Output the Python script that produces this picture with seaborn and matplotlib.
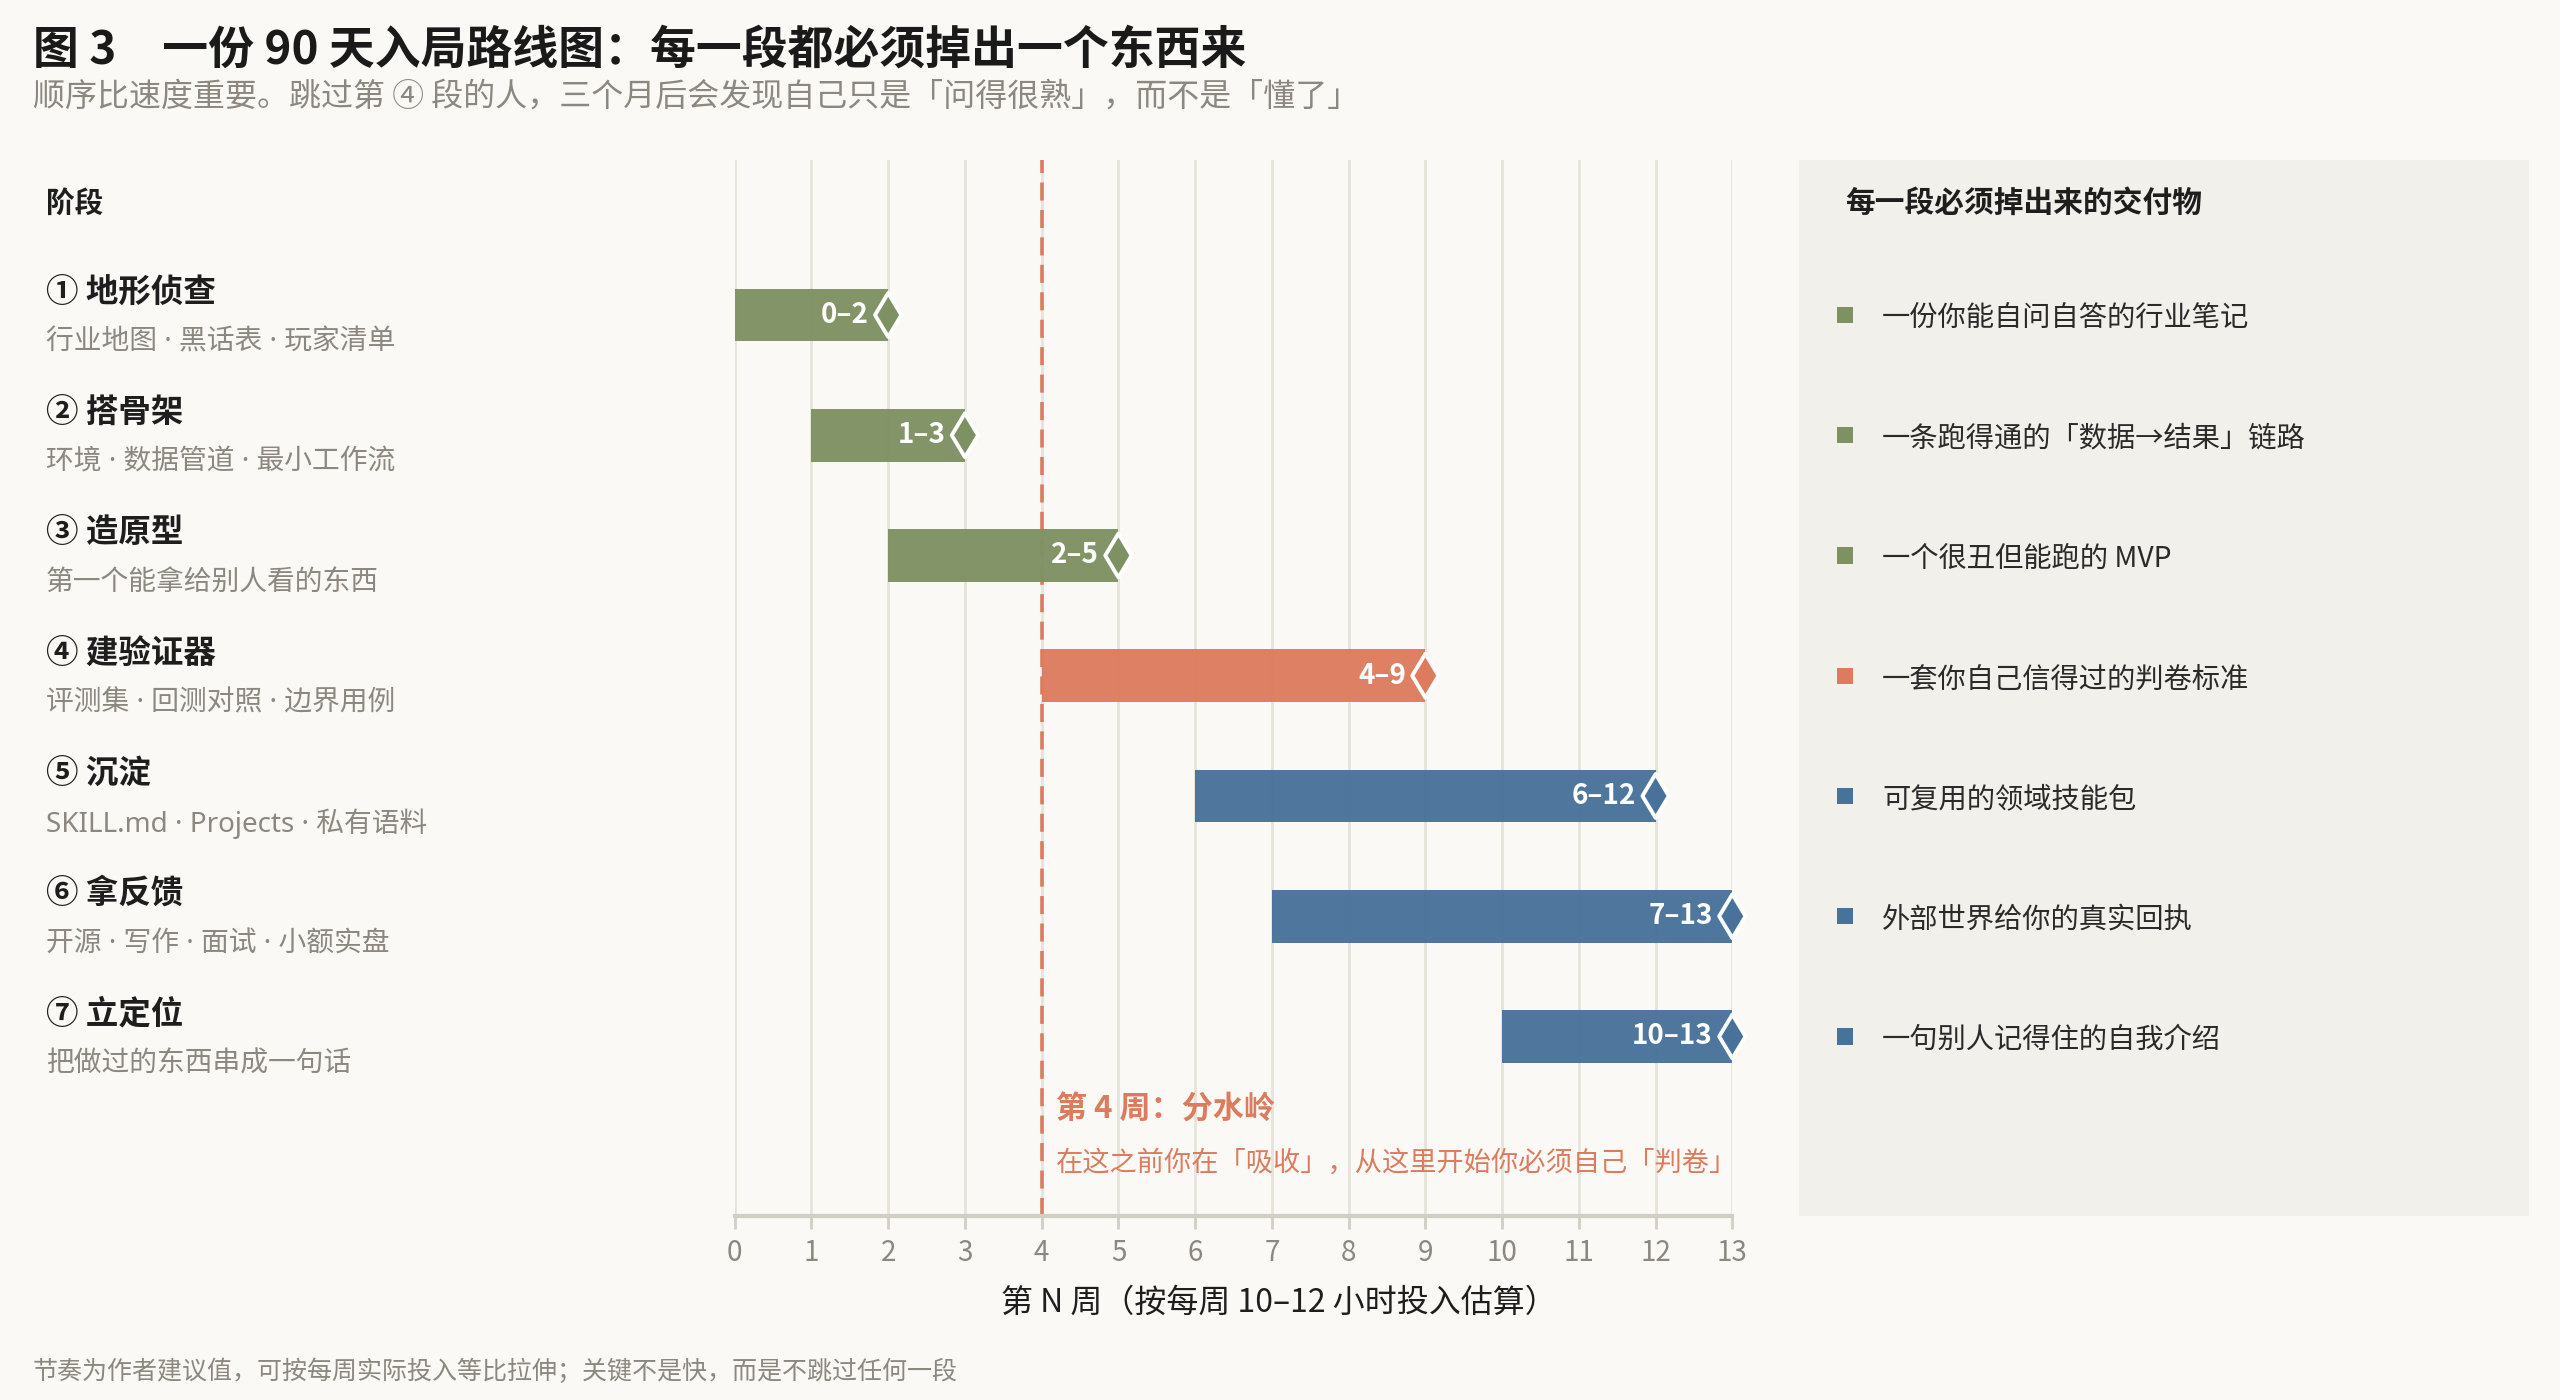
import numpy as np
import pandas as pd
import matplotlib
matplotlib.use("Agg")
import matplotlib.pyplot as plt
import matplotlib.transforms as mtransforms
import seaborn as sns

# ---------------- data ----------------
stages = ["① 地形侦查", "② 搭骨架", "③ 造原型", "④ 建验证器", "⑤ 沉淀", "⑥ 拿反馈", "⑦ 立定位"]
descs = ["行业地图 · 黑话表 · 玩家清单", "环境 · 数据管道 · 最小工作流", "第一个能拿给别人看的东西",
         "评测集 · 回测对照 · 边界用例", "SKILL.md · Projects · 私有语料", "开源 · 写作 · 面试 · 小额实盘",
         "把做过的东西串成一句话"]
start_week = [0, 1, 2, 4, 6, 7, 10]
end_week = [2, 3, 5, 9, 12, 13, 13]
phase = ["吸收", "吸收", "吸收", "判卷", "输出", "输出", "输出"]
deliverables = ["一份你能自问自答的行业笔记", "一条跑得通的「数据→结果」链路", "一个很丑但能跑的 MVP",
                "一套你自己信得过的判卷标准", "可复用的领域技能包", "外部世界给你的真实回执",
                "一句别人记得住的自我介绍"]
week_ticks = list(range(0, 14))
watershed_week = 4

title = "图 3　一份 90 天入局路线图：每一段都必须掉出一个东西来"
subtitle = "顺序比速度重要。跳过第 ④ 段的人，三个月后会发现自己只是「问得很熟」，而不是「懂了」"
xlabel = "第 N 周（按每周 10–12 小时投入估算）"
left_header = "阶段"
right_header = "每一段必须掉出来的交付物"
note_title = "第 4 周：分水岭"
note_text = "在这之前你在「吸收」，从这里开始你必须自己「判卷」"
footnote = "节奏为作者建议值，可按每周实际投入等比拉伸；关键不是快，而是不跳过任何一段"

# ---------------- style ----------------
BG = "#FAF9F5"
PANEL = "#F2F0EA"
GREEN = "#7E9162"
ORANGE = "#DC7B5D"
BLUE = "#48729A"
palette = {"吸收": GREEN, "判卷": ORANGE, "输出": BLUE}
DARK = "#1E1E1E"
GRAY = "#8C877F"

sns.set_theme(style="white")
plt.rcParams["font.family"] = ["Noto Sans CJK SC", "DejaVu Sans"]
plt.rcParams["axes.unicode_minus"] = False
LATIN_FIRST = ["Noto Sans", "Noto Sans CJK SC", "DejaVu Sans"]

fig = plt.figure(figsize=(12.8, 7), dpi=200, facecolor=BG)

AX_L, AX_R = 0.2870, 0.6767
AX_B, AX_T = 0.1317, 0.8858
ax = fig.add_axes([AX_L, AX_B, AX_R - AX_L, AX_T - AX_B])
ax.set_facecolor("none")

df = pd.DataFrame({"stage": stages, "start": start_week, "end": end_week, "phase": phase})
df["dur"] = df["end"] - df["start"]
colors = [palette[p] for p in df["phase"]]
pos = np.arange(len(stages))

sns.barplot(data=df, x="dur", y="stage", order=stages, orient="h",
            left=df["start"].to_numpy(), width=0.44, errorbar=None,
            color=GREEN, linewidth=0, edgecolor="none", ax=ax, zorder=3)
for p, c in zip(ax.patches, colors):
    p.set_facecolor(c)
    p.set_alpha(0.96)

# watershed line
ax.axvline(watershed_week, color=ORANGE, lw=1.3, ls=(0, (5, 2.6)), zorder=2.5)

# end diamonds
sns.scatterplot(x=df["end"].to_numpy(), y=pos, hue=df["phase"].to_numpy(), palette=palette,
                marker="d", s=125, edgecolor="white", linewidth=1.4, legend=False,
                ax=ax, zorder=5, clip_on=False)

# bar labels
for i, (s, e) in enumerate(zip(df["start"], df["end"])):
    ax.annotate(f"{s}–{e}", xy=(e, i), xytext=(-7, 0), textcoords="offset points",
                ha="right", va="center", color="white", fontweight="bold", fontsize=10, zorder=6)

# annotation
ax.text(watershed_week + 0.19, 6.61, note_title, color=ORANGE, fontweight="bold",
        fontsize=11.2, va="center", ha="left")
ax.text(watershed_week + 0.19, 7.05, note_text, color=ORANGE, fontsize=9.8, va="center", ha="left")

ax.set_xlim(0, 13)
ax.set_ylim(7.49, -1.29)
ax.set_xticks(week_ticks)
ax.set_xticklabels([str(t) for t in week_ticks])
ax.set_yticks([])
ax.grid(axis="x", color="#E6E3DA", lw=1.0, zorder=0)
ax.grid(axis="y", visible=False)
ax.set_axisbelow(True)
for sp in ["top", "right", "left"]:
    ax.spines[sp].set_visible(False)
ax.spines["bottom"].set_color("#D3CEC3")
ax.spines["bottom"].set_linewidth(1.5)
ax.tick_params(axis="x", bottom=True, length=4.5, width=1.0, color="#D3CEC3",
               labelcolor=GRAY, labelsize=10, pad=3.6, direction="out")
ax.set_ylabel("")
ax.set_xlabel(xlabel, fontsize=11.5, color=DARK)
ax.xaxis.set_label_coords(0.545, -0.083)
ax.xaxis.label.set_verticalalignment("center")

# left labels
blend = mtransforms.blended_transform_factory(fig.transFigure, ax.transData)
LX = 0.01786
ax.text(LX, -0.93, left_header, transform=blend, fontsize=10.3, fontweight="bold",
        color=DARK, va="center", ha="left")
for i, (name, d) in enumerate(zip(stages, descs)):
    ax.text(LX, i - 0.19, name, transform=blend, fontsize=11.7, fontweight="bold",
            color=DARK, va="center", ha="left")
    ax.text(LX, i + 0.23, d, transform=blend, fontsize=10, color=GRAY, va="center", ha="left",
            family=LATIN_FIRST)

# right panel
ax2 = fig.add_axes([0.7028, AX_B, 0.9879 - 0.7028, AX_T - AX_B])
ax2.set_facecolor(PANEL)
ax2.set_xlim(0, 1)
ax2.set_ylim(7.49, -1.29)
ax2.set_xticks([])
ax2.set_yticks([])
for sp in ax2.spines.values():
    sp.set_visible(False)
ax2.text(0.063, -0.93, right_header, fontsize=10.7, fontweight="bold", color=DARK,
         va="center", ha="left")
sns.scatterplot(x=np.full(len(stages), 0.0623), y=pos, hue=df["phase"].to_numpy(),
                palette=palette, marker="s", s=34, linewidth=0, legend=False, ax=ax2)
for i, t in enumerate(deliverables):
    ax2.text(0.1137, i + 0.03, t, fontsize=10.2, color="#2A2A2A", va="center", ha="left")

# titles and notes
fig.text(0.0128, 0.964, title, fontsize=16.5, fontweight="bold", color="#1A1A1A",
         va="center", ha="left")
fig.text(0.0128, 0.931, subtitle, fontsize=11.5, color=GRAY, va="center", ha="left")
fig.text(0.0128, 0.0204, footnote, fontsize=9, color=GRAY, va="center", ha="left")

fig.savefig("out.png", dpi=200, facecolor=BG)
